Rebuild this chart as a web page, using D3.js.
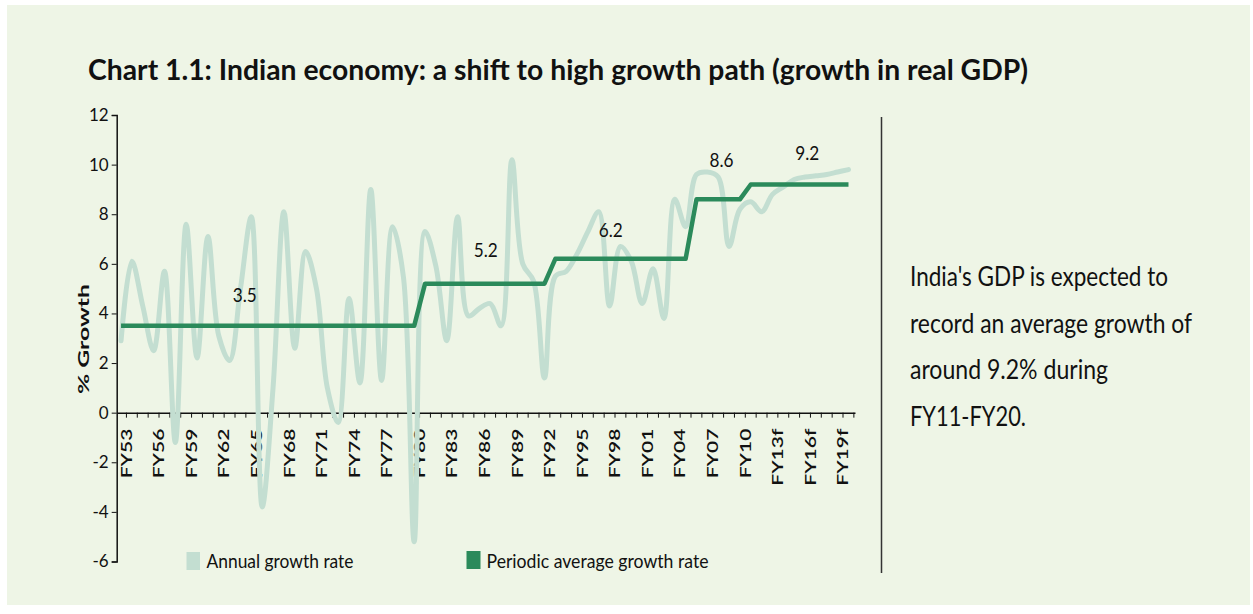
<!DOCTYPE html>
<html>
<head>
<meta charset="utf-8">
<script src="https://cdn.jsdelivr.net/npm/d3@7"></script>
<style>
  body { margin: 0; background: #ffffff; }
  svg { display: block; }
  text { font-family: Lato, "Open Sans", sans-serif; fill: #111; }
</style>
</head>
<body>
<script>
// chart data: real GDP growth (%) by fiscal year, FY11 onwards forecast

var years = d3.range(1953, 2021);

var annualGrowth = [
  2.9, 6.1, 4.3, 2.5, 5.7, -1.2, 7.6, 2.2, 7.1, 3.1,   // FY53-FY62
  2.1, 5.0, 7.9, -3.8, 1.0, 8.1, 2.6, 6.5, 5.0, 1.0,   // FY63-FY72
  -0.4, 4.6, 1.2, 9.0, 1.3, 7.5, 5.5, -5.2, 7.3, 5.9,  // FY73-FY82
  2.9, 7.9, 3.9, 4.2, 4.4, 3.5, 10.2, 6.0, 5.3, 1.4,   // FY83-FY92
  5.5, 5.7, 6.4, 7.3, 8.1, 4.3, 6.7, 6.1, 4.4, 5.8,    // FY93-FY02
  3.8, 8.6, 7.5, 9.6, 9.7, 9.5, 6.7, 8.2, 8.5, 8.1,    // FY03-FY12
  8.8, 9.1, 9.4, 9.5, 9.55, 9.6, 9.7, 9.8              // FY13-FY20
];

var periodStart = [1953, 1981, 1993, 2006, 2011];
var periodEnd   = [1980, 1992, 2005, 2010, 2020];
var periodAvg   = [3.5, 5.2, 6.2, 8.6, 9.2];

var yTicks = [-6, -4, -2, 0, 2, 4, 6, 8, 10, 12];
var xLabelYears = d3.range(1953, 2021, 3);

var sideText = [
  "India's GDP is expected to",
  "record an average growth of",
  "around 9.2% during",
  "FY11-FY20."
];

function fyLabel(yr) {
  var s = "FY" + String(yr % 100).padStart(2, "0");
  if (yr > 2010) s += "f";
  return s;
}

// layout

var width = 1253;
var height = 614;
var annualColor = "#c3ded1";
var periodColor = "#2b8a5b";

var svg = d3.select("body")
  .append("svg")
    .attr("width", width)
    .attr("height", height);

svg.append("rect")
  .attr("x", 7)
  .attr("y", 5)
  .attr("width", 1243)
  .attr("height", 600)
  .attr("fill", "#eef5e6");

// scales
var xScale = d3.scaleLinear()
  .domain([1952.6, 2020.6])
  .range([116.7, 855]);

var yScale = d3.scaleLinear()
  .domain([-6, 12])
  .range([561.5, 115]);

// title
svg.append("text")
  .attr("x", 88)
  .attr("y", 80)
  .attr("textLength", 940)
  .attr("lengthAdjust", "spacingAndGlyphs")
  .style("font-size", "28px")
  .style("font-weight", "bold")
  .text("Chart 1.1: Indian economy: a shift to high growth path (growth in real GDP)");

// y axis
var yAxis = d3.axisLeft(yScale)
  .tickValues(yTicks)
  .tickSize(5)
  .tickPadding(3)
  .tickFormat(d => String(d));

var gy = svg.append("g")
  .attr("transform", "translate(116.7,0)")
  .call(yAxis);
gy.select(".domain").attr("stroke", "#111").attr("stroke-width", 1.5);
gy.selectAll(".tick line").attr("stroke", "#111");
gy.selectAll(".tick text")
  .style("font-size", "17px")
  .style("font-family", "Lato, sans-serif")
  .attr("fill", "#111");

svg.append("text")
  .attr("transform", "rotate(-90)")
  .attr("x", -339)
  .attr("y", 89)
  .attr("textLength", 110)
  .attr("lengthAdjust", "spacingAndGlyphs")
  .style("text-anchor", "middle")
  .style("font-size", "16px")
  .style("font-weight", "bold")
  .text("% Growth");

// x axis along zero
var xAxis = d3.axisBottom(xScale)
  .tickValues(years.map(d => d + 0.45))
  .tickSize(5)
  .tickSizeOuter(0)
  .tickFormat(function(d) {
    var yr = Math.round(d - 0.45);
    return xLabelYears.indexOf(yr) >= 0 ? fyLabel(yr) : "";
  });

var gx = svg.append("g")
  .attr("transform", "translate(0," + yScale(0) + ")")
  .call(xAxis);
gx.select(".domain").attr("stroke", "#111").attr("stroke-width", 1.5);
gx.selectAll(".tick line").attr("stroke", "#111");
gx.selectAll(".tick text")
  .attr("transform", "rotate(-90)")
  .attr("x", -16)
  .attr("y", 0)
  .attr("dy", "0.35em")
  .style("text-anchor", "end")
  .style("font-size", "15px")
  .style("font-family", "Lato, sans-serif")
  .style("font-weight", "600")
  .attr("fill", "#111")
  .each(function() {
    if (this.textContent) {
      var len = this.getComputedTextLength();
      d3.select(this)
        .attr("textLength", len * 1.4)
        .attr("lengthAdjust", "spacingAndGlyphs");
    }
  });

// annual growth line
var annualData = years.map((yr, i) => ({ year: yr, value: annualGrowth[i] }));

var annualLine = d3.line()
  .x(d => xScale(d.year))
  .y(d => yScale(d.value))
  .curve(d3.curveCatmullRom.alpha(0.5));

svg.append("path")
  .datum(annualData)
  .attr("d", annualLine)
  .attr("fill", "none")
  .attr("stroke", annualColor)
  .attr("stroke-width", 5)
  .attr("stroke-linejoin", "round")
  .attr("stroke-linecap", "round");

// periodic average line, one point per year
var periodData = years.map(function(yr) {
  var k = periodStart.findIndex((s, j) => yr >= s && yr <= periodEnd[j]);
  return { year: yr, value: periodAvg[k] };
});

var periodLine = d3.line()
  .x(d => xScale(d.year))
  .y(d => yScale(d.value));

svg.append("path")
  .datum(periodData)
  .attr("d", periodLine)
  .attr("fill", "none")
  .attr("stroke", periodColor)
  .attr("stroke-width", 4.5)
  .attr("stroke-linejoin", "round");

// period value labels
var labelYear = [1964.4, 1986.6, 1998.1, 2008.3, 2016.2];
var labelGap = [24, 27, 22, 32, 24];

svg.selectAll(".period-label")
  .data(periodAvg)
  .enter()
  .append("text")
    .attr("class", "period-label")
    .attr("x", (d, i) => xScale(labelYear[i]))
    .attr("y", (d, i) => yScale(d) - labelGap[i])
    .attr("textLength", 24)
    .attr("lengthAdjust", "spacingAndGlyphs")
    .style("text-anchor", "middle")
    .style("font-size", "20px")
    .text(d => d3.format(".1f")(d));

// legend
svg.append("rect")
  .attr("x", 186.5)
  .attr("y", 552)
  .attr("width", 13.5)
  .attr("height", 18)
  .attr("fill", annualColor);
svg.append("text")
  .attr("x", 206.5)
  .attr("y", 568)
  .attr("textLength", 147)
  .attr("lengthAdjust", "spacingAndGlyphs")
  .style("font-size", "20px")
  .text("Annual growth rate");

svg.append("rect")
  .attr("x", 466.5)
  .attr("y", 551)
  .attr("width", 14)
  .attr("height", 18)
  .attr("fill", periodColor);
svg.append("text")
  .attr("x", 486.5)
  .attr("y", 568)
  .attr("textLength", 222)
  .attr("lengthAdjust", "spacingAndGlyphs")
  .style("font-size", "20px")
  .text("Periodic average growth rate");

// separator and side note
svg.append("line")
  .attr("x1", 881.5)
  .attr("x2", 881.5)
  .attr("y1", 117)
  .attr("y2", 573)
  .attr("stroke", "#333")
  .attr("stroke-width", 1.5);

var sideWidths = [258, 282, 198, 116];

svg.selectAll(".side-note")
  .data(sideText)
  .enter()
  .append("text")
    .attr("class", "side-note")
    .attr("x", 910)
    .attr("y", (d, i) => 286 + i * 46.5)
    .attr("textLength", (d, i) => sideWidths[i])
    .attr("lengthAdjust", "spacingAndGlyphs")
    .style("font-size", "27px")
    .text(d => d);
</script>
</body>
</html>
